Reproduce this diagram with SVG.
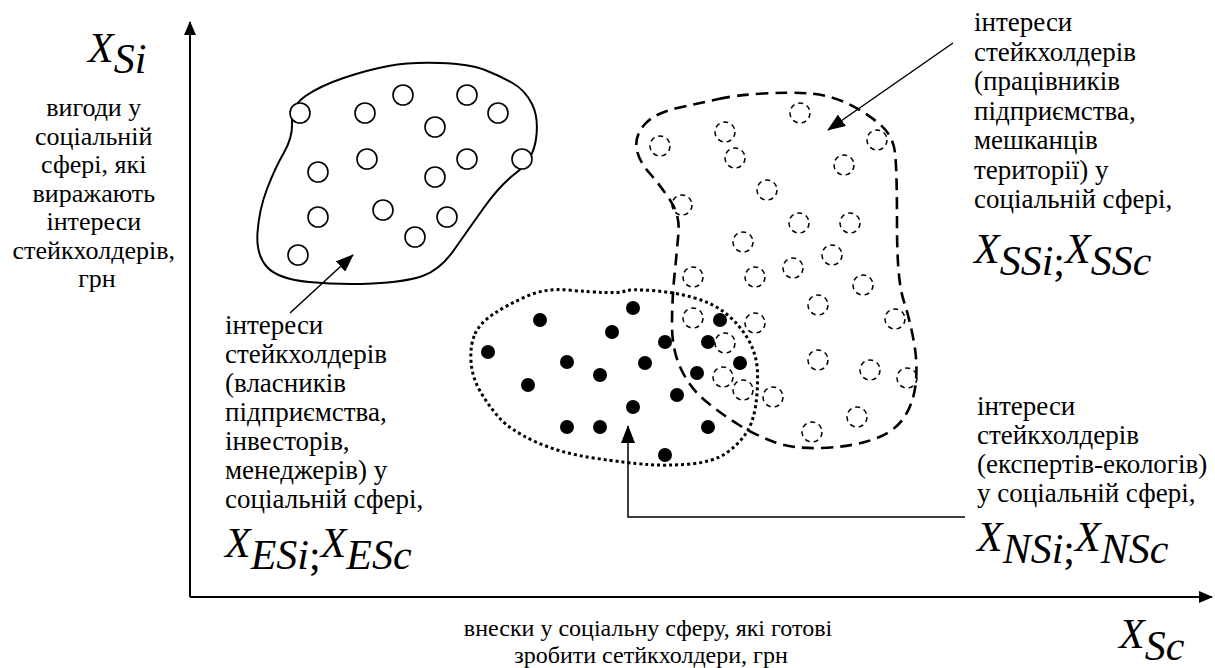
<svg xmlns="http://www.w3.org/2000/svg" width="1215" height="668" viewBox="0 0 1215 668">
<style>
text{font-family:"Liberation Serif","Times New Roman",serif;fill:#000}
.t{font-size:27px}
.y{font-size:26px}
.b{font-size:24px}
.m{font-size:42px;font-style:italic}
.mu{font-style:normal}
.ax{stroke:#000;stroke-width:2;fill:none}
.ar{stroke:#000;stroke-width:1.5;fill:none}
.solid{stroke:#000;stroke-width:2;fill:none}
.dash{stroke:#000;stroke-width:2.6;fill:none;stroke-dasharray:12 7}
.dot{stroke:#000;stroke-width:3;fill:none;stroke-dasharray:3 3}
.oc{stroke:#000;stroke-width:1.6;fill:#fff}
.dc{stroke:#000;stroke-width:1.5;fill:none;stroke-dasharray:5 4}
.fc{fill:#000}
</style>
<defs>
<marker id="ah" markerUnits="userSpaceOnUse" markerWidth="18" markerHeight="14" refX="17" refY="7" orient="auto"><path d="M0,0 L18,7 L0,14 z" fill="#000"/></marker>
<marker id="axh" markerUnits="userSpaceOnUse" markerWidth="14" markerHeight="12" refX="13" refY="6" orient="auto"><path d="M0,0 L14,6 L0,12 z" fill="#000"/></marker>
</defs>

<g id="axes">
<path class="ax" d="M190,597 L190,22" marker-end="url(#axh)"/>
<path class="ax" d="M190,597 L1212,597" marker-end="url(#axh)"/>
</g>

<g id="axis-y-label">
<text class="m" x="88" y="62">X<tspan dy="11">Si</tspan></text>
<text class="y" text-anchor="middle">
<tspan x="97" y="116">вигоди у</tspan>
<tspan x="97" y="144.5">соціальній</tspan>
<tspan x="97" y="173">сфері, які</tspan>
<tspan x="97" y="201.5">виражають</tspan>
<tspan x="97" y="230">інтереси</tspan>
<tspan x="97" y="258.5">стейкхолдерів,</tspan>
<tspan x="97" y="287">грн</tspan>
</text>
</g>

<g id="axis-x-label">
<text class="b" text-anchor="middle">
<tspan x="651" y="636">внески у соціальну сферу, які готові</tspan>
<tspan x="651" y="663">зробити сетйкхолдери, грн</tspan>
</text>
<text class="m" x="1119" y="648">X<tspan dy="12">Sc</tspan></text>
</g>

<g id="owners-region">
<path class="solid" d="M343.5,78 Q320,86 305.5,96 Q291,106 292,121.5 Q293,137 284,152.5 Q275,168 267,189 Q259,210 257.5,232.5 Q256,255 267,267 Q278,279 309,282 Q340,285 372.5,283.5 Q405,282 422.5,276 Q440,270 454,250 Q468,230 484,207.5 Q500,185 516.5,172.5 Q533,160 536,139 Q539,118 532,104 Q525,90 512.5,83 Q500,76 485,70 Q470,64 440,63 Q410,62 388.5,66 Q367,70 343.5,78 Z"/>
<circle class="oc" cx="300" cy="113" r="10"/>
<circle class="oc" cx="365" cy="113" r="10"/>
<circle class="oc" cx="403" cy="95" r="10"/>
<circle class="oc" cx="467" cy="95" r="10"/>
<circle class="oc" cx="498" cy="113" r="10"/>
<circle class="oc" cx="435" cy="127" r="10"/>
<circle class="oc" cx="367" cy="159" r="10"/>
<circle class="oc" cx="467" cy="159" r="10"/>
<circle class="oc" cx="522" cy="159" r="10"/>
<circle class="oc" cx="318" cy="172" r="10"/>
<circle class="oc" cx="435" cy="177" r="10"/>
<circle class="oc" cx="383" cy="210" r="10"/>
<circle class="oc" cx="318" cy="217" r="10"/>
<circle class="oc" cx="447" cy="217" r="10"/>
<circle class="oc" cx="415" cy="237" r="10"/>
<circle class="oc" cx="298" cy="255" r="10"/>
</g>

<g id="workers-region">
<path class="dash" d="M718.5,99 Q737,95 763.5,93.5 Q790,92 810,93.5 Q830,95 847.5,103.5 Q865,112 879,123.5 Q893,135 895,152.5 Q897,170 897,225 Q897,280 903.5,300 Q910,320 914,342.5 Q918,365 915.5,385 Q913,405 903,419 Q893,433 871.5,440 Q850,447 821.5,448 Q793,449 774,442 Q755,435 737.5,424 Q720,413 705,400.5 Q690,388 681,369 Q672,350 672,325 Q672,300 674.5,275 Q677,250 678.5,232.5 Q680,215 670,200 Q660,185 649,172.5 Q638,160 636.5,147.5 Q635,135 645,124 Q655,113 677.5,108 Q700,103 718.5,99 Z"/>
<circle class="dc" cx="800" cy="113" r="10"/>
<circle class="dc" cx="725" cy="132" r="10"/>
<circle class="dc" cx="660" cy="146" r="10"/>
<circle class="dc" cx="877" cy="140" r="10"/>
<circle class="dc" cx="735" cy="158" r="10"/>
<circle class="dc" cx="844" cy="165" r="10"/>
<circle class="dc" cx="767" cy="190" r="10"/>
<circle class="dc" cx="682" cy="205" r="10"/>
<circle class="dc" cx="799" cy="223" r="10"/>
<circle class="dc" cx="850" cy="223" r="10"/>
<circle class="dc" cx="743" cy="242" r="10"/>
<circle class="dc" cx="832" cy="255" r="10"/>
<circle class="dc" cx="793" cy="268" r="10"/>
<circle class="dc" cx="693" cy="277" r="10"/>
<circle class="dc" cx="755" cy="277" r="10"/>
<circle class="dc" cx="863" cy="285" r="10"/>
<circle class="dc" cx="818" cy="305" r="10"/>
<circle class="dc" cx="693" cy="318" r="10"/>
<circle class="dc" cx="755" cy="323" r="10"/>
<circle class="dc" cx="895" cy="319" r="10"/>
<circle class="dc" cx="725" cy="343" r="10"/>
<circle class="dc" cx="818" cy="360" r="10"/>
<circle class="dc" cx="870" cy="370" r="10"/>
<circle class="dc" cx="907" cy="378" r="10"/>
<circle class="dc" cx="723" cy="377" r="10"/>
<circle class="dc" cx="743" cy="390" r="10"/>
<circle class="dc" cx="773" cy="397" r="10"/>
<circle class="dc" cx="857" cy="417" r="10"/>
<circle class="dc" cx="812" cy="432" r="10"/>
</g>

<g id="ecologists-region">
<path class="dot" d="M475,334 Q480,323 493.5,314 Q507,305 526,296.5 Q545,288 567.5,290 Q590,292 605,292.5 Q620,293 625,291 Q630,289 651.5,290.5 Q673,292 693,297.5 Q713,303 726.5,314 Q740,325 748.5,340 Q757,355 757.5,372.5 Q758,390 755.5,406.5 Q753,423 745.5,434 Q738,445 725.5,453.5 Q713,462 690,464 Q667,466 647,464.5 Q627,463 593.5,458 Q560,453 535,441.5 Q510,430 499,417.5 Q488,405 480,391 Q472,377 471,361 Q470,345 475,334 Z"/>
<circle class="fc" cx="540" cy="320" r="7"/>
<circle class="fc" cx="633" cy="308" r="7"/>
<circle class="fc" cx="612" cy="332" r="7"/>
<circle class="fc" cx="488" cy="352" r="7"/>
<circle class="fc" cx="567" cy="362" r="7"/>
<circle class="fc" cx="645" cy="363" r="7"/>
<circle class="fc" cx="600" cy="375" r="7"/>
<circle class="fc" cx="528" cy="385" r="7"/>
<circle class="fc" cx="633" cy="407" r="7"/>
<circle class="fc" cx="567" cy="427" r="7"/>
<circle class="fc" cx="600" cy="427" r="7"/>
<circle class="fc" cx="665" cy="455" r="7"/>
<circle class="fc" cx="665" cy="342" r="7"/>
<circle class="fc" cx="720" cy="320" r="7"/>
<circle class="fc" cx="708" cy="342" r="7"/>
<circle class="fc" cx="740" cy="363" r="7"/>
<circle class="fc" cx="697" cy="373" r="7"/>
<circle class="fc" cx="677" cy="395" r="7"/>
<circle class="fc" cx="708" cy="427" r="7"/>
</g>

<g id="owners-label">
<text class="t">
<tspan x="225" y="334">інтереси</tspan>
<tspan x="225" y="363">стейкхолдерів</tspan>
<tspan x="225" y="392">(власників</tspan>
<tspan x="225" y="421">підприємства,</tspan>
<tspan x="225" y="450">інвесторів,</tspan>
<tspan x="225" y="479">менеджерів) у</tspan>
<tspan x="225" y="508">соціальній сфері,</tspan>
</text>
<text class="m" x="225" y="557">X<tspan dy="12">ESi</tspan><tspan class="mu">;</tspan><tspan dy="-12">X</tspan><tspan dy="12">ESc</tspan></text>
</g>

<g id="workers-label">
<text class="t">
<tspan x="974" y="31">інтереси</tspan>
<tspan x="974" y="60.5">стейкхолдерів</tspan>
<tspan x="974" y="90">(працівників</tspan>
<tspan x="974" y="119.5">підприємства,</tspan>
<tspan x="974" y="149">мешканців</tspan>
<tspan x="974" y="178.5">території) у</tspan>
<tspan x="974" y="208">соціальній сфері,</tspan>
</text>
<text class="m" x="974" y="263">X<tspan dy="12">SSi</tspan><tspan class="mu">;</tspan><tspan dy="-12">X</tspan><tspan dy="12">SSc</tspan></text>
</g>

<g id="ecologists-label">
<text class="t">
<tspan x="977" y="415">інтереси</tspan>
<tspan x="977" y="444">стейкхолдерів</tspan>
<tspan x="977" y="473">(експертів-екологів)</tspan>
<tspan x="977" y="502">у соціальній сфері,</tspan>
</text>
<text class="m" x="977" y="551">X<tspan dy="12">NSi</tspan><tspan class="mu">;</tspan><tspan dy="-12">X</tspan><tspan dy="12">NSc</tspan></text>
</g>

<g id="connectors">
<path class="ar" d="M290,313 L353,255" marker-end="url(#ah)"/>
<path class="ar" d="M953,43 L828,130" marker-end="url(#ah)"/>
<path class="ar" d="M965,517 L628,517 L628,426" marker-end="url(#ah)"/>
</g>
</svg>
